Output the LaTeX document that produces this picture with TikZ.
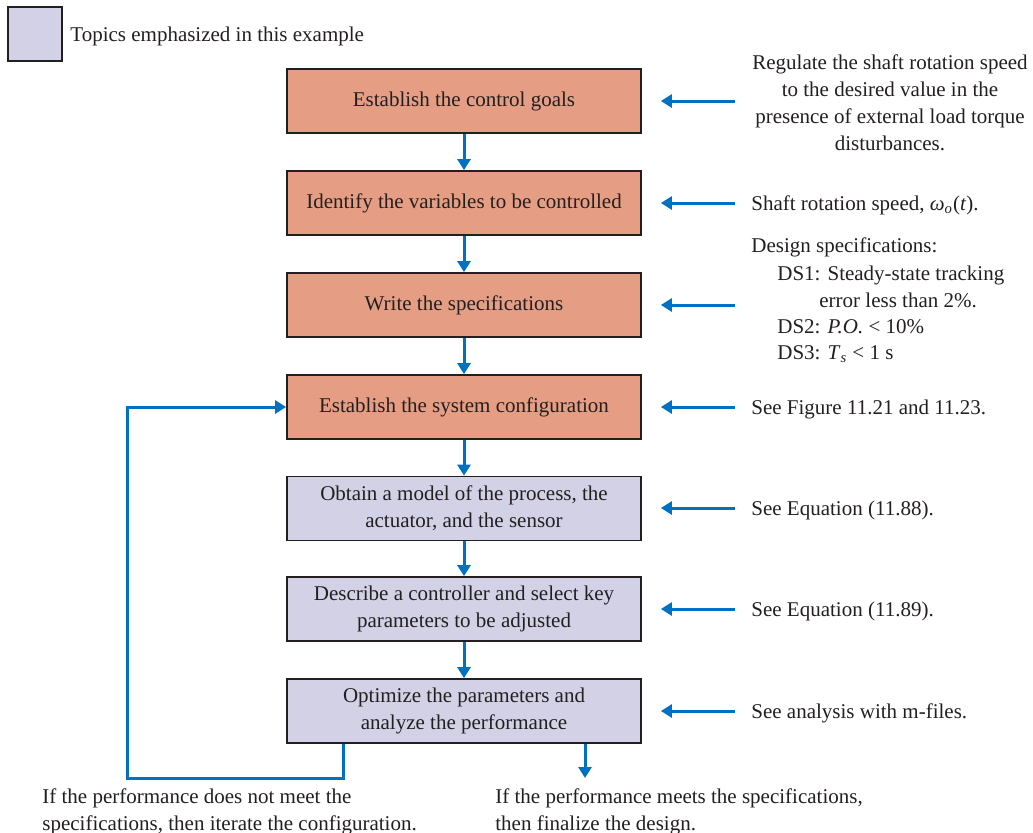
\documentclass[tikz,border=0pt]{standalone}
\usepackage{fontspec}
\setmainfont{Liberation Serif}
\usetikzlibrary{arrows.meta}
\definecolor{orangebox}{RGB}{229,158,132}
\definecolor{purplebox}{RGB}{211,209,230}
\definecolor{flowblue}{RGB}{0,112,192}
\definecolor{edge}{RGB}{35,31,32}
\tikzset{
  stepbox/.style={draw=edge, line width=0.9pt, minimum width=177pt, minimum height=32pt, align=center, inner sep=2pt, font=\fontsize{10.5}{13.5}\selectfont, text=edge},
  goalbox/.style={stepbox, fill=orangebox},
  topicbox/.style={stepbox, fill=purplebox},
  flow/.style={draw=flowblue, line width=1.5pt, -{Triangle[length=5.5pt,width=6.5pt]}},
  note/.style={font=\fontsize{10.5}{13.5}\selectfont, text=edge, inner sep=0pt},
}
\begin{document}
\begin{tikzpicture}[x=0.5pt,y=-0.5pt]
\useasboundingbox (0,0) rectangle (1033,832);
% legend
\node[draw=edge, line width=0.9pt, fill=purplebox, minimum width=27pt, minimum height=27pt, inner sep=0pt] (leg) at (35,34) {};
\node[note, anchor=base west] (legtext) at (70,41.5) {Topics emphasized in this example};
% boxes
\node[goalbox] (b1) at (464,101) {Establish the control goals};
\node[goalbox] (b2) at (464,203) {Identify the variables to be controlled};
\node[goalbox] (b3) at (464,305) {Write the specifications};
\node[goalbox] (b4) at (464,407) {Establish the system configuration};
\node[topicbox] (b5) at (464,508.5) {Obtain a model of the process, the\\actuator, and the sensor};
\node[topicbox] (b6) at (464,609) {Describe a controller and select key\\parameters to be adjusted};
\node[topicbox] (b7) at (464,711) {Optimize the parameters and\\analyze the performance};
% down arrows
\draw[flow] (b1) -- (b2);
\draw[flow] (b2) -- (b3);
\draw[flow] (b3) -- (b4);
\draw[flow] (b4) -- (b5);
\draw[flow] (b5) -- (b6);
\draw[flow] (b6) -- (b7);
% right notes
\node[note, align=center] (n1) at (890,102.5) {Regulate the shaft rotation speed\\to the desired value in the\\presence of external load torque\\disturbances.};
\node[note, anchor=base west] (n2) at (751,210.5) {Shaft rotation speed, \textit{ω}\textsubscript{\textit{o}}(\textit{t}).};
\node[note, anchor=base west] (ds0) at (751,252.5) {Design specifications:};
\node[note, anchor=base west] (ds1) at (777,280.5) {DS1: Steady-state tracking};
\node[note, anchor=base west] (ds1b) at (819,307.5) {error less than 2\%.};
\node[note, anchor=base west] (ds2) at (777,333.5) {DS2: \textit{P.O.} < 10\%};
\node[note, anchor=base west] (ds3) at (777,359.5) {DS3: \textit{T}\textsubscript{\textit{s}} < 1 s};
\node[note, anchor=base west] (n4) at (751,414.5) {See Figure 11.21 and 11.23.};
\node[note, anchor=base west] (n5) at (751,515.5) {See Equation (11.88).};
\node[note, anchor=base west] (n6) at (751,616.5) {See Equation (11.89).};
\node[note, anchor=base west] (n7) at (751,718.5) {See analysis with m-files.};
% left-pointing arrows
\coordinate (r1) at (735,101);
\coordinate (r2) at (735,203);
\coordinate (r3) at (735,305);
\coordinate (r4) at (735,407);
\coordinate (r5) at (735,508);
\coordinate (r6) at (735,609);
\coordinate (r7) at (735,711);
\draw[flow, shorten >=9.5pt] (r1) -- (b1.east |- r1);
\draw[flow, shorten >=9.5pt] (r2) -- (b2.east |- r2);
\draw[flow, shorten >=9.5pt] (r3) -- (b3.east |- r3);
\draw[flow, shorten >=9.5pt] (r4) -- (b4.east |- r4);
\draw[flow, shorten >=9.5pt] (r5) -- (b5.east |- r5);
\draw[flow, shorten >=9.5pt] (r6) -- (b6.east |- r6);
\draw[flow, shorten >=9.5pt] (r7) -- (b7.east |- r7);
% feedback loop
\coordinate (fb1) at (343,778);
\coordinate (fb2) at (127,778);
\draw[flow] (b7.south -| fb1) -- (fb1) -- (fb2) |- (b4.west);
% output
\coordinate (out) at (585,778);
\draw[flow] (b7.south -| out) -- (out);
% bottom notes
\node[note, align=left, anchor=north west] (bl) at (42,788) {If the performance does not meet the\\specifications, then iterate the configuration.};
\node[note, align=left, anchor=north west] (br) at (495,788) {If the performance meets the specifications,\\then finalize the design.};
\end{tikzpicture}
\end{document}
